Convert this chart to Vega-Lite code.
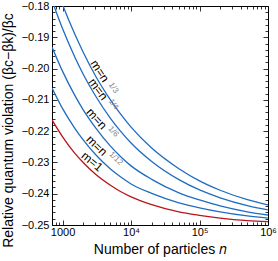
{
  "$schema": "https://vega.github.io/schema/vega-lite/v6.json",
  "width": 216,
  "height": 219,
  "autosize": {"type": "none"},
  "padding": {"left": 52, "top": 6, "right": 10, "bottom": 36},
  "config": {
    "view": {"stroke": "black", "strokeWidth": 1},
    "font": "Liberation Sans",
    "axis": {
      "grid": false, "domain": false, "tickColor": "black", "tickWidth": 0.8,
      "labelColor": "black", "titleColor": "black",
      "labelFont": "Liberation Sans", "titleFont": "Liberation Sans",
      "labelFontSize": 11, "titleFontSize": 14, "titleFontWeight": "normal",
      "labelOverlap": false, "labelFlush": false
    }
  },
  "datasets": {
    "curves": [
      {"n": 700, "v": -0.1701, "m": "1/3"}, {"n": 1000, "v": -0.1796, "m": "1/3"}, {"n": 1500, "v": -0.1889, "m": "1/3"}, {"n": 2000, "v": -0.1948, "m": "1/3"}, {"n": 3000, "v": -0.2022, "m": "1/3"}, {"n": 5000, "v": -0.2100, "m": "1/3"}, {"n": 7000, "v": -0.2145, "m": "1/3"}, {"n": 10000, "v": -0.2187, "m": "1/3"}, {"n": 20000, "v": -0.2254, "m": "1/3"}, {"n": 50000, "v": -0.2320, "m": "1/3"}, {"n": 100000, "v": -0.2359, "m": "1/3"}, {"n": 200000, "v": -0.2389, "m": "1/3"}, {"n": 500000, "v": -0.2419, "m": "1/3"}, {"n": 1000000, "v": -0.2436, "m": "1/3"},
      {"n": 700, "v": -0.1782, "m": "1/4"}, {"n": 1000, "v": -0.1873, "m": "1/4"}, {"n": 1500, "v": -0.1962, "m": "1/4"}, {"n": 2000, "v": -0.2018, "m": "1/4"}, {"n": 3000, "v": -0.2086, "m": "1/4"}, {"n": 5000, "v": -0.2159, "m": "1/4"}, {"n": 7000, "v": -0.2200, "m": "1/4"}, {"n": 10000, "v": -0.2238, "m": "1/4"}, {"n": 20000, "v": -0.2297, "m": "1/4"}, {"n": 50000, "v": -0.2355, "m": "1/4"}, {"n": 100000, "v": -0.2388, "m": "1/4"}, {"n": 200000, "v": -0.2413, "m": "1/4"}, {"n": 500000, "v": -0.2438, "m": "1/4"}, {"n": 1000000, "v": -0.2452, "m": "1/4"},
      {"n": 700, "v": -0.1931, "m": "1/6"}, {"n": 1000, "v": -0.2009, "m": "1/6"}, {"n": 1500, "v": -0.2085, "m": "1/6"}, {"n": 2000, "v": -0.2132, "m": "1/6"}, {"n": 3000, "v": -0.2188, "m": "1/6"}, {"n": 5000, "v": -0.2248, "m": "1/6"}, {"n": 7000, "v": -0.2281, "m": "1/6"}, {"n": 10000, "v": -0.2311, "m": "1/6"}, {"n": 20000, "v": -0.2354, "m": "1/6"}, {"n": 50000, "v": -0.2397, "m": "1/6"}, {"n": 100000, "v": -0.2420, "m": "1/6"}, {"n": 200000, "v": -0.2439, "m": "1/6"}, {"n": 500000, "v": -0.2458, "m": "1/6"}, {"n": 1000000, "v": -0.2468, "m": "1/6"},
      {"n": 700, "v": -0.2062, "m": "1/12"}, {"n": 1000, "v": -0.2128, "m": "1/12"}, {"n": 1500, "v": -0.2190, "m": "1/12"}, {"n": 2000, "v": -0.2228, "m": "1/12"}, {"n": 3000, "v": -0.2274, "m": "1/12"}, {"n": 5000, "v": -0.2321, "m": "1/12"}, {"n": 7000, "v": -0.2346, "m": "1/12"}, {"n": 10000, "v": -0.2369, "m": "1/12"}, {"n": 20000, "v": -0.2399, "m": "1/12"}, {"n": 50000, "v": -0.2429, "m": "1/12"}, {"n": 100000, "v": -0.2445, "m": "1/12"}, {"n": 200000, "v": -0.2458, "m": "1/12"}, {"n": 500000, "v": -0.2471, "m": "1/12"}, {"n": 1000000, "v": -0.2478, "m": "1/12"},
      {"n": 700, "v": -0.2164, "m": "1"}, {"n": 1000, "v": -0.2218, "m": "1"}, {"n": 1500, "v": -0.2270, "m": "1"}, {"n": 2000, "v": -0.2300, "m": "1"}, {"n": 3000, "v": -0.2337, "m": "1"}, {"n": 5000, "v": -0.2373, "m": "1"}, {"n": 7000, "v": -0.2393, "m": "1"}, {"n": 10000, "v": -0.2410, "m": "1"}, {"n": 20000, "v": -0.2435, "m": "1"}, {"n": 50000, "v": -0.2458, "m": "1"}, {"n": 100000, "v": -0.2469, "m": "1"}, {"n": 200000, "v": -0.2478, "m": "1"}, {"n": 500000, "v": -0.2486, "m": "1"}, {"n": 1000000, "v": -0.2489, "m": "1"}
    ],
    "annot": [
      {"n": 3500, "v": -0.2008, "text": "m=n", "m": "1/3", "kind": "main"},
      {"n": 5500, "v": -0.2062, "text": "1/3", "m": "1/3", "kind": "sup"},
      {"n": 3300, "v": -0.2066, "text": "m=n", "m": "1/4", "kind": "main"},
      {"n": 5500, "v": -0.2115, "text": "1/4", "m": "1/4", "kind": "sup"},
      {"n": 3150, "v": -0.2160, "text": "m=n", "m": "1/6", "kind": "main"},
      {"n": 5500, "v": -0.2202, "text": "1/6", "m": "1/6", "kind": "sup"},
      {"n": 3150, "v": -0.2246, "text": "m=n", "m": "1/12", "kind": "main"},
      {"n": 5950, "v": -0.2288, "text": "1/12", "m": "1/12", "kind": "sup"},
      {"n": 2700, "v": -0.2297, "text": "m=1", "m": "1", "kind": "main"}
    ]
  },
  "layer": [
    {
      "data": {"name": "curves"},
      "mark": {"type": "line", "clip": true, "interpolate": "monotone"},
      "encoding": {
        "x": {
          "field": "n", "type": "quantitative",
          "scale": {"type": "log", "domain": [700, 1000000]},
          "axis": {
            "orient": "bottom",
            "values": [700, 800, 900, 1000, 2000, 3000, 4000, 5000, 6000, 7000, 8000, 9000, 10000, 20000, 30000, 40000, 50000, 60000, 70000, 80000, 90000, 100000, 200000, 300000, 400000, 500000, 600000, 700000, 800000, 900000, 1000000],
            "labelExpr": "datum.value == 1000 ? '1000' : datum.value == 10000 ? '10⁴' : datum.value == 100000 ? '10⁵' : datum.value == 1000000 ? '10⁶' : ''",
            "tickSize": {"condition": {"test": "datum.value == 1000 || datum.value == 10000 || datum.value == 100000 || datum.value == 1000000", "value": -5}, "value": -3},
            "labelPadding": 6,
            "title": "Number of particles 𝑛",
            "titlePadding": 3
          }
        },
        "y": {
          "field": "v", "type": "quantitative",
          "scale": {"domain": [-0.25, -0.18], "nice": false, "zero": false},
          "axis": {
            "orient": "left",
            "values": [-0.25, -0.248, -0.246, -0.244, -0.242, -0.24, -0.238, -0.236, -0.234, -0.232, -0.23, -0.228, -0.226, -0.224, -0.222, -0.22, -0.218, -0.216, -0.214, -0.212, -0.21, -0.208, -0.206, -0.204, -0.202, -0.2, -0.198, -0.196, -0.194, -0.192, -0.19, -0.188, -0.186, -0.184, -0.182, -0.18],
            "labelExpr": "abs(datum.value*100 - round(datum.value*100)) < 0.01 ? format(datum.value, '.2f') : ''",
            "tickSize": {"condition": {"test": "abs(datum.value*100 - round(datum.value*100)) < 0.01", "value": -5}, "value": -3},
            "labelPadding": 8,
            "title": "Relative quantum violation (βc−βk)/βc",
            "titleX": -37,
            "titleY": 124
          }
        },
        "color": {"field": "m", "type": "nominal", "scale": {"domain": ["1/3", "1/4", "1/6", "1/12", "1"], "range": ["#1f6cc2", "#1f6cc2", "#1f6cc2", "#1f6cc2", "#b8141c"]}, "legend": null},
        "strokeWidth": {"field": "m", "type": "nominal", "scale": {"domain": ["1/3", "1/4", "1/6", "1/12", "1"], "range": [1.3, 1.3, 1.3, 1.3, 2.1]}, "legend": null}
      }
    },
    {
      "data": {"name": "annot"},
      "transform": [{"filter": "datum.m == '1/3'"}],
      "mark": {"type": "text", "align": "center", "baseline": "middle", "font": "Liberation Sans", "angle": 57},
      "encoding": {
        "x": {
          "field": "n", "type": "quantitative",
          "scale": {"type": "log", "domain": [700, 1000000]},
          "axis": {
            "orient": "top",
            "values": [700, 800, 900, 1000, 2000, 3000, 4000, 5000, 6000, 7000, 8000, 9000, 10000, 20000, 30000, 40000, 50000, 60000, 70000, 80000, 90000, 100000, 200000, 300000, 400000, 500000, 600000, 700000, 800000, 900000, 1000000],
            "labels": false,
            "tickSize": {"condition": {"test": "datum.value == 1000 || datum.value == 10000 || datum.value == 100000 || datum.value == 1000000", "value": -5}, "value": -3},
            "title": null
          }
        },
        "y": {
          "field": "v", "type": "quantitative",
          "scale": {"domain": [-0.25, -0.18], "nice": false, "zero": false},
          "axis": {
            "orient": "right",
            "values": [-0.25, -0.248, -0.246, -0.244, -0.242, -0.24, -0.238, -0.236, -0.234, -0.232, -0.23, -0.228, -0.226, -0.224, -0.222, -0.22, -0.218, -0.216, -0.214, -0.212, -0.21, -0.208, -0.206, -0.204, -0.202, -0.2, -0.198, -0.196, -0.194, -0.192, -0.19, -0.188, -0.186, -0.184, -0.182, -0.18],
            "labels": false,
            "tickSize": {"condition": {"test": "abs(datum.value*100 - round(datum.value*100)) < 0.01", "value": -5}, "value": -3},
            "title": null
          }
        },
        "text": {"field": "text"},
        "size": {"condition": {"test": "datum.kind == 'sup'", "value": 8}, "value": 12},
        "color": {"condition": {"test": "datum.kind == 'sup'", "value": "#808080"}, "value": "black"}
      }
    },
    {
      "data": {"name": "annot"},
      "transform": [{"filter": "datum.m == '1/4'"}],
      "mark": {"type": "text", "align": "center", "baseline": "middle", "font": "Liberation Sans", "angle": 54},
      "encoding": {
        "x": {"field": "n", "type": "quantitative", "scale": {"type": "log", "domain": [700, 1000000]}, "axis": null},
        "y": {"field": "v", "type": "quantitative", "scale": {"domain": [-0.25, -0.18], "nice": false, "zero": false}, "axis": null},
        "text": {"field": "text"},
        "size": {"condition": {"test": "datum.kind == 'sup'", "value": 8}, "value": 12},
        "color": {"condition": {"test": "datum.kind == 'sup'", "value": "#808080"}, "value": "black"}
      }
    },
    {
      "data": {"name": "annot"},
      "transform": [{"filter": "datum.m == '1/6'"}],
      "mark": {"type": "text", "align": "center", "baseline": "middle", "font": "Liberation Sans", "angle": 48},
      "encoding": {
        "x": {"field": "n", "type": "quantitative", "scale": {"type": "log", "domain": [700, 1000000]}, "axis": null},
        "y": {"field": "v", "type": "quantitative", "scale": {"domain": [-0.25, -0.18], "nice": false, "zero": false}, "axis": null},
        "text": {"field": "text"},
        "size": {"condition": {"test": "datum.kind == 'sup'", "value": 8}, "value": 12},
        "color": {"condition": {"test": "datum.kind == 'sup'", "value": "#808080"}, "value": "black"}
      }
    },
    {
      "data": {"name": "annot"},
      "transform": [{"filter": "datum.m == '1/12'"}],
      "mark": {"type": "text", "align": "center", "baseline": "middle", "font": "Liberation Sans", "angle": 44},
      "encoding": {
        "x": {"field": "n", "type": "quantitative", "scale": {"type": "log", "domain": [700, 1000000]}, "axis": null},
        "y": {"field": "v", "type": "quantitative", "scale": {"domain": [-0.25, -0.18], "nice": false, "zero": false}, "axis": null},
        "text": {"field": "text"},
        "size": {"condition": {"test": "datum.kind == 'sup'", "value": 8}, "value": 12},
        "color": {"condition": {"test": "datum.kind == 'sup'", "value": "#808080"}, "value": "black"}
      }
    },
    {
      "data": {"name": "annot"},
      "transform": [{"filter": "datum.m == '1'"}],
      "mark": {"type": "text", "align": "center", "baseline": "middle", "font": "Liberation Sans", "angle": 40},
      "encoding": {
        "x": {"field": "n", "type": "quantitative", "scale": {"type": "log", "domain": [700, 1000000]}, "axis": null},
        "y": {"field": "v", "type": "quantitative", "scale": {"domain": [-0.25, -0.18], "nice": false, "zero": false}, "axis": null},
        "text": {"field": "text"},
        "size": {"condition": {"test": "datum.kind == 'sup'", "value": 8}, "value": 12},
        "color": {"condition": {"test": "datum.kind == 'sup'", "value": "#808080"}, "value": "black"}
      }
    }
  ],
  "resolve": {"axis": {"x": "independent", "y": "independent"}}
}
